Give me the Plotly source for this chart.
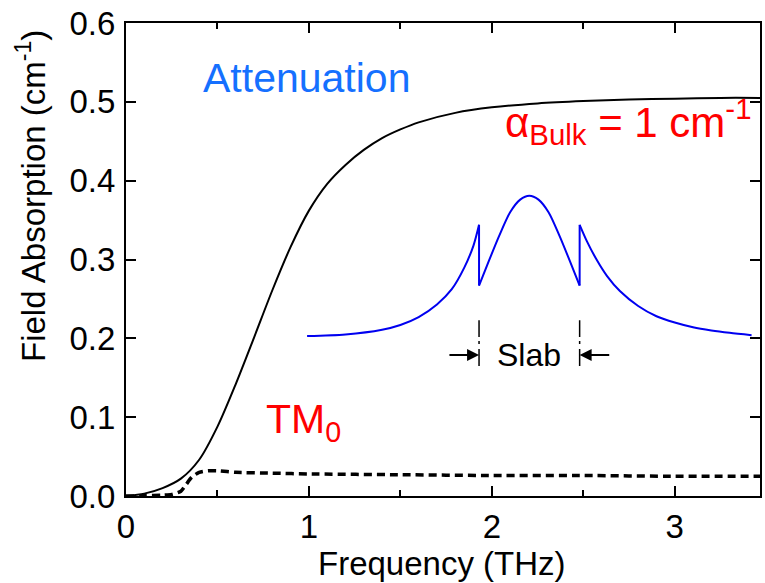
import plotly.graph_objects as go

# ---------------- data ----------------
att_f = [0, 0.1, 0.2, 0.3, 0.4, 0.5, 0.6, 0.7, 0.8, 0.9, 1.0, 1.1, 1.2, 1.3, 1.4,
         1.5, 1.6, 1.8, 2.0, 2.25, 2.5, 2.75, 3.0, 3.25, 3.466]
att_v = [0, 0.003, 0.010, 0.022, 0.046, 0.088, 0.142, 0.201, 0.261, 0.316, 0.362,
         0.396, 0.420, 0.439, 0.454, 0.465, 0.474, 0.486, 0.493, 0.498, 0.501,
         0.503, 0.504, 0.505, 0.505]

tm0_f = [0, 0.1, 0.2, 0.25, 0.3, 0.33, 0.36, 0.4, 0.45, 0.5, 0.6, 0.8, 1.0, 1.5,
         2.0, 2.5, 3.0, 3.466]
tm0_v = [0, 0.0003, 0.001, 0.002, 0.006, 0.015, 0.024, 0.030, 0.032, 0.032, 0.030,
         0.029, 0.028, 0.027, 0.026, 0.026, 0.025, 0.025]

# blue schematic profile (inset)
left_f = [0.99, 1.2, 1.4, 1.5, 1.6, 1.7, 1.78, 1.85, 1.9, 1.93]
left_v = [0.203, 0.205, 0.211, 0.217, 0.227, 0.243, 0.262, 0.290, 0.318, 0.344]
arch_f = [1.93, 1.98, 2.04, 2.1, 2.155, 2.205, 2.255, 2.31, 2.37, 2.43, 2.48]
arch_v = [0.267, 0.296, 0.330, 0.360, 0.376, 0.381, 0.376, 0.360, 0.330, 0.296, 0.267]
right_f = [2.48, 2.52, 2.57, 2.63, 2.70, 2.80, 2.90, 3.00, 3.10, 3.20, 3.30, 3.42]
right_v = [0.344, 0.323, 0.301, 0.279, 0.260, 0.241, 0.228, 0.220, 0.214, 0.210,
           0.207, 0.204]
jump_lo = 0.267
jump_hi = 0.344

slab_left = 1.93
slab_right = 2.48
slab_y = 0.179
slab_mark_lo = 0.165
slab_mark_hi = 0.223
arrow_tail_left = 1.76
arrow_tail_right = 2.65

x_ticks = [0, 1, 2, 3]
y_ticks = [0.0, 0.1, 0.2, 0.3, 0.4, 0.5, 0.6]

FONT = "Liberation Sans, Arial, sans-serif"
BLUE_LINE = "#0000f0"
BLUE_TEXT = "#1570ff"
RED = "#ff0000"

fig = go.Figure()

fig.add_trace(go.Scatter(x=att_f, y=att_v, mode="lines",
                         line=dict(color="black", width=2, shape="spline", smoothing=0.8),
                         showlegend=False))
fig.add_trace(go.Scatter(x=tm0_f, y=tm0_v, mode="lines",
                         line=dict(color="black", width=3.5, dash="8px,5px",
                                   shape="spline", smoothing=0.6),
                         showlegend=False))

for fx, fv in [(left_f, left_v), (arch_f, arch_v), (right_f, right_v)]:
    fig.add_trace(go.Scatter(x=fx, y=fv, mode="lines",
                             line=dict(color=BLUE_LINE, width=2, shape="spline", smoothing=0.8),
                             showlegend=False))
# vertical jumps at slab edges
fig.add_trace(go.Scatter(x=[slab_left, slab_left], y=[jump_hi, jump_lo], mode="lines",
                         line=dict(color=BLUE_LINE, width=2), showlegend=False))
fig.add_trace(go.Scatter(x=[slab_right, slab_right], y=[jump_lo, jump_hi], mode="lines",
                         line=dict(color=BLUE_LINE, width=2), showlegend=False))

# slab marker lines
for sx in [slab_left, slab_right]:
    fig.add_shape(type="line", x0=sx, x1=sx, y0=slab_mark_lo, y1=slab_mark_hi,
                  xref="x", yref="y",
                  line=dict(color="black", width=1.5, dash="17px,5px,3px,4px"))

# arrows
fig.add_annotation(x=slab_left, y=slab_y, ax=arrow_tail_left, ay=slab_y,
                   xref="x", yref="y", axref="x", ayref="y", text="",
                   showarrow=True, arrowhead=2, arrowsize=1.2, arrowwidth=2,
                   arrowcolor="black", standoff=0)
fig.add_annotation(x=slab_right, y=slab_y, ax=arrow_tail_right, ay=slab_y,
                   xref="x", yref="y", axref="x", ayref="y", text="",
                   showarrow=True, arrowhead=2, arrowsize=1.2, arrowwidth=2,
                   arrowcolor="black", standoff=0)
fig.add_annotation(x=(slab_left + slab_right) / 2, y=slab_y, text="Slab",
                   showarrow=False, xref="x", yref="y",
                   font=dict(family=FONT, size=32, color="black"))

# labels
fig.add_annotation(x=0.41, y=0.530, text="Attenuation", showarrow=False,
                   xanchor="left", yanchor="middle", xref="x", yref="y",
                   font=dict(family=FONT, size=41, color=BLUE_TEXT))
fig.add_annotation(x=3.432, y=0.475, text="α<sub>Bulk</sub> = 1 cm<sup>-1</sup>",
                   showarrow=False, xanchor="right", yanchor="middle",
                   xref="x", yref="y",
                   font=dict(family=FONT, size=42, color=RED))
fig.add_annotation(x=0.757, y=0.094, text="TM<sub>0</sub>", showarrow=False,
                   xanchor="left", yanchor="middle", xref="x", yref="y",
                   font=dict(family=FONT, size=41, color=RED))

# axis titles
fig.add_annotation(x=-0.150, y=0.634, xref="paper", yref="paper",
                   text="Field Absorption (cm<sup>-1</sup>)", textangle=-90,
                   showarrow=False, xanchor="center", yanchor="middle",
                   font=dict(family=FONT, size=33, color="black"))
fig.add_annotation(x=0.499, y=-0.142, xref="paper", yref="paper",
                   text="Frequency (THz)", showarrow=False,
                   xanchor="center", yanchor="middle",
                   font=dict(family=FONT, size=33, color="black"))

fig.update_xaxes(range=[0, 3.466], tickvals=x_ticks, ticktext=[str(v) for v in x_ticks],
                 ticks="inside", ticklen=10, tickwidth=2, tickcolor="black",
                 showline=True, linewidth=2, linecolor="black", mirror="ticks",
                 showgrid=False, zeroline=False,
                 minor=dict(dtick=0.5, ticks="inside", ticklen=6, tickwidth=2,
                            tickcolor="black", showgrid=False),
                 tickfont=dict(family=FONT, size=33, color="black"),
                 ticklabelstandoff=0)
fig.update_yaxes(range=[0, 0.6], tickvals=y_ticks, ticktext=[f"{v:.1f}" for v in y_ticks],
                 ticks="inside", ticklen=10, tickwidth=2, tickcolor="black",
                 showline=True, linewidth=2, linecolor="black", mirror="ticks",
                 showgrid=False, zeroline=False,
                 tickfont=dict(family=FONT, size=33, color="black"),
                 ticklabelstandoff=2)

fig.update_layout(width=765, height=583, margin=dict(l=126, r=3, t=23, b=87),
                  paper_bgcolor="white", plot_bgcolor="white", showlegend=False)

fig.write_html("out.html")
